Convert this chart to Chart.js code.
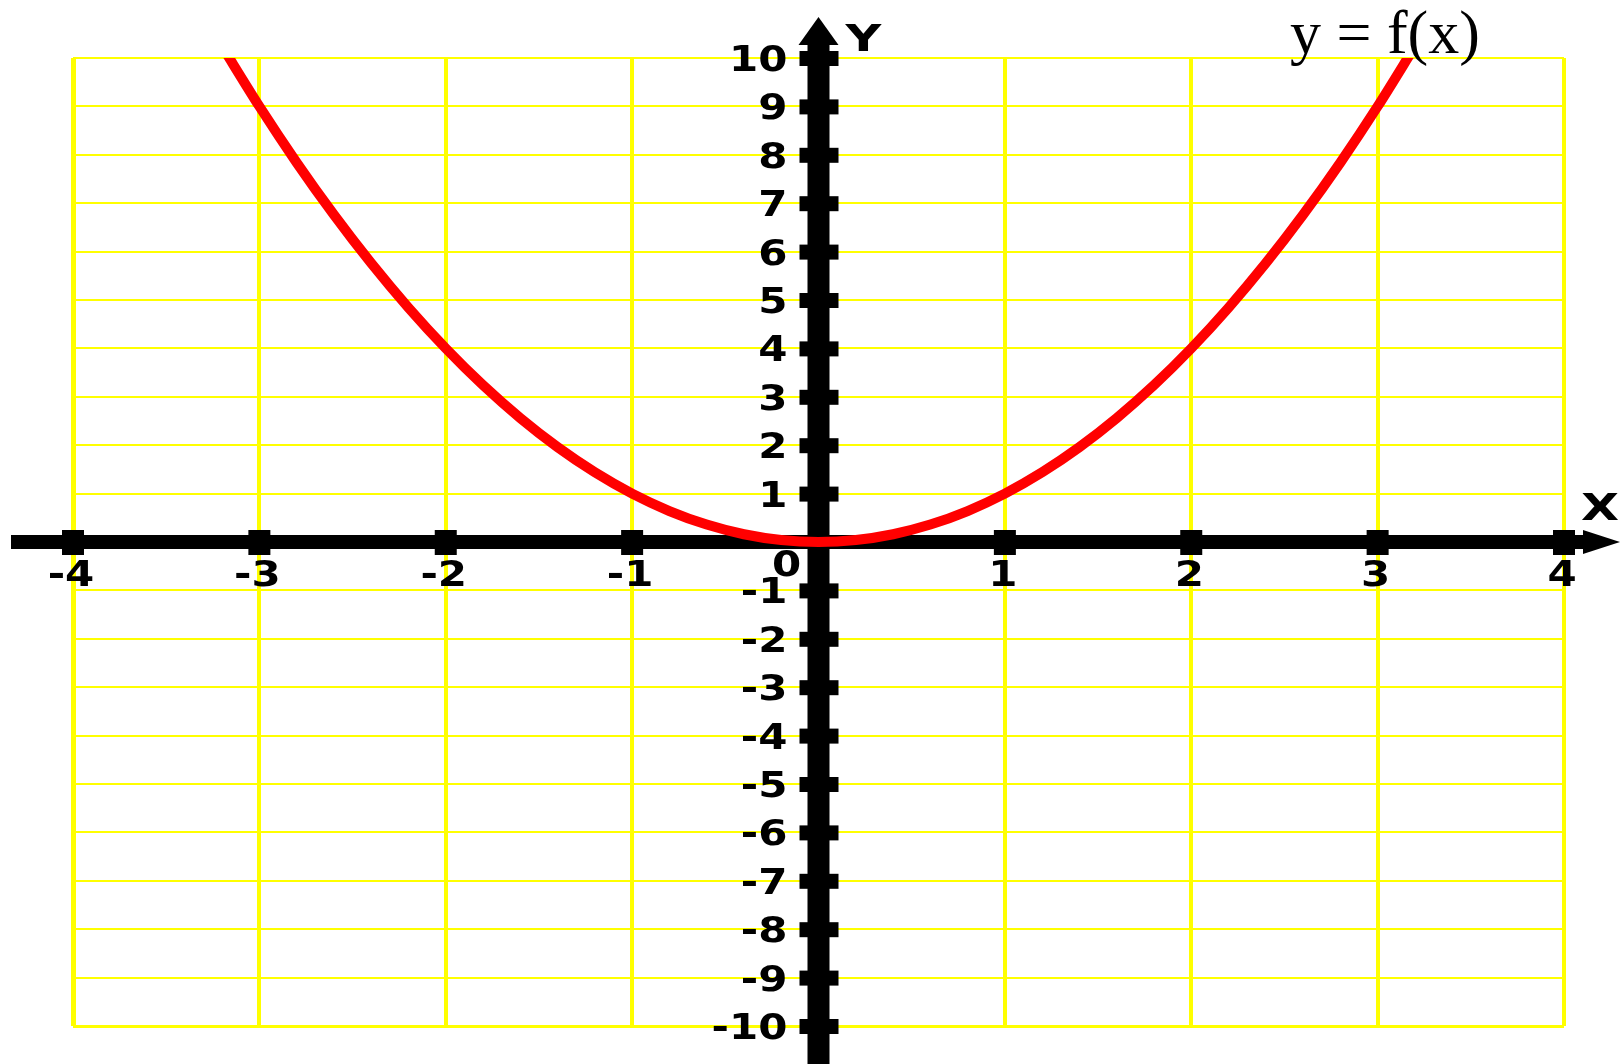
<!DOCTYPE html>
<html>
<head>
<meta charset="utf-8">
<title>y = f(x)</title>
<script src="https://cdn.jsdelivr.net/npm/chart.js@4.4.1/dist/chart.umd.min.js"></script>
<style>
  html, body { margin: 0; padding: 0; background: #fff; overflow: hidden; }
  canvas { display: block; }
</style>
</head>
<body>
<canvas id="graph" width="1621" height="1064"></canvas>
<script>
// tick values shown on the two axes (0 is drawn once, at the origin)
const xTickValues = [-4, -3, -2, -1, 1, 2, 3, 4];
const yTickValues = [10, 9, 8, 7, 6, 5, 4, 3, 2, 1, -1, -2, -3, -4, -5, -6, -7, -8, -9, -10];
const originLabel = '0';
const xAxisName = 'X';
const yAxisName = 'Y';
const titleText = 'y = f(x)';

// the red parabola
const curveX = [-3.2, -3.0, -2.8, -2.6, -2.4, -2.2, -2.0, -1.8, -1.6, -1.4, -1.2, -1.0, -0.8, -0.6, -0.4, -0.2,
                0, 0.2, 0.4, 0.6, 0.8, 1.0, 1.2, 1.4, 1.6, 1.8, 2.0, 2.2, 2.4, 2.6, 2.8, 3.0, 3.2];
const curveY = [10.24, 9, 7.84, 6.76, 5.76, 4.84, 4, 3.24, 2.56, 1.96, 1.44, 1, 0.64, 0.36, 0.16, 0.04,
                0, 0.04, 0.16, 0.36, 0.64, 1, 1.44, 1.96, 2.56, 3.24, 4, 4.84, 5.76, 6.76, 7.84, 9, 10.24];

// wide, blocky text like the old bitmap font of the original
function wideText(ctx, text, x, y, align, stretch) {
  ctx.save();
  ctx.translate(x, y);
  ctx.scale(stretch, 1);
  ctx.textAlign = align;
  ctx.fillText(text, 0, 0);
  ctx.restore();
}

const crossAxes = {
  id: 'crossAxes',
  beforeDatasetsDraw(chart) {
    const {ctx} = chart;
    const xs = chart.scales.x, ys = chart.scales.y;
    const x0 = xs.getPixelForValue(0);
    const y0 = ys.getPixelForValue(0);
    ctx.save();
    ctx.fillStyle = '#000';

    // horizontal axis + arrow
    const arrowBase = xs.right + 19;
    ctx.fillRect(xs.left - 62, y0 - 7, arrowBase - (xs.left - 62), 14);
    ctx.beginPath();
    ctx.moveTo(arrowBase, y0 - 12);
    ctx.lineTo(xs.right + 56, y0);
    ctx.lineTo(arrowBase, y0 + 12);
    ctx.closePath();
    ctx.fill();

    // vertical axis + arrow
    const arrowTop = ys.top - 13;
    ctx.fillRect(x0 - 11, arrowTop, 22, chart.height - arrowTop);
    ctx.beginPath();
    ctx.moveTo(x0 - 20, arrowTop);
    ctx.lineTo(x0, ys.top - 41);
    ctx.lineTo(x0 + 20, arrowTop);
    ctx.closePath();
    ctx.fill();

    // square tick marks
    xTickValues.forEach(v => {
      const px = xs.getPixelForValue(v);
      ctx.fillRect(px - 11, y0 - 12, 22, 25);
    });
    yTickValues.forEach(v => {
      const py = ys.getPixelForValue(v);
      ctx.fillRect(x0 - 19, py - 7, 39, 15);
    });

    // tick labels
    ctx.font = 'bold 35px "DejaVu Sans"';
    ctx.textBaseline = 'alphabetic';
    xTickValues.forEach(v => {
      wideText(ctx, String(v), xs.getPixelForValue(v) - 2, y0 + 44, 'center', 1.2);
    });
    yTickValues.forEach(v => {
      wideText(ctx, String(v), x0 - 31, ys.getPixelForValue(v) + 13, 'right', 1.2);
    });
    wideText(ctx, originLabel, x0 - 32, y0 + 34, 'center', 1.2);

    // axis names
    ctx.font = 'bold 38px "DejaVu Sans"';
    wideText(ctx, yAxisName, x0 + 45, ys.top - 7, 'center', 1.3);
    wideText(ctx, xAxisName, xs.right + 36, y0 - 22, 'center', 1.3);
    ctx.restore();
  },
  afterDraw(chart) {
    const {ctx} = chart;
    ctx.save();
    ctx.fillStyle = '#000';
    ctx.font = '62px "Liberation Serif"';
    ctx.textAlign = 'left';
    ctx.textBaseline = 'alphabetic';
    ctx.fillText(titleText, chart.scales.x.right - 274, chart.scales.y.top - 5);
    ctx.restore();
  }
};

new Chart(document.getElementById('graph'), {
  type: 'scatter',
  data: {
    datasets: [{
      label: titleText,
      data: curveX.map((x, i) => ({x: x, y: curveY[i]})),
      showLine: true,
      borderColor: '#ff0000',
      borderWidth: 10,
      pointRadius: 0,
      tension: 0.3
    }]
  },
  options: {
    responsive: false,
    devicePixelRatio: 1,
    animation: false,
    layout: { padding: { left: 73, right: 57, top: 58, bottom: 38 } },
    plugins: {
      legend: { display: false },
      tooltip: { enabled: false }
    },
    scales: {
      x: {
        type: 'linear',
        min: -4,
        max: 4,
        ticks: { stepSize: 1, display: false },
        grid: {
          color: '#ffff00',
          lineWidth: c => (c.tick && c.tick.value === -4) ? 5 : 4,
          drawTicks: false
        },
        border: { display: false },
        afterFit: s => { s.height = 0; }
      },
      y: {
        type: 'linear',
        min: -10,
        max: 10,
        ticks: { stepSize: 1, display: false },
        grid: {
          color: '#ffff00',
          lineWidth: c => (c.tick && c.tick.value === -10) ? 3 : 2,
          drawTicks: false
        },
        border: { display: false },
        afterFit: s => { s.width = 0; }
      }
    }
  },
  plugins: [crossAxes]
});
</script>
</body>
</html>
